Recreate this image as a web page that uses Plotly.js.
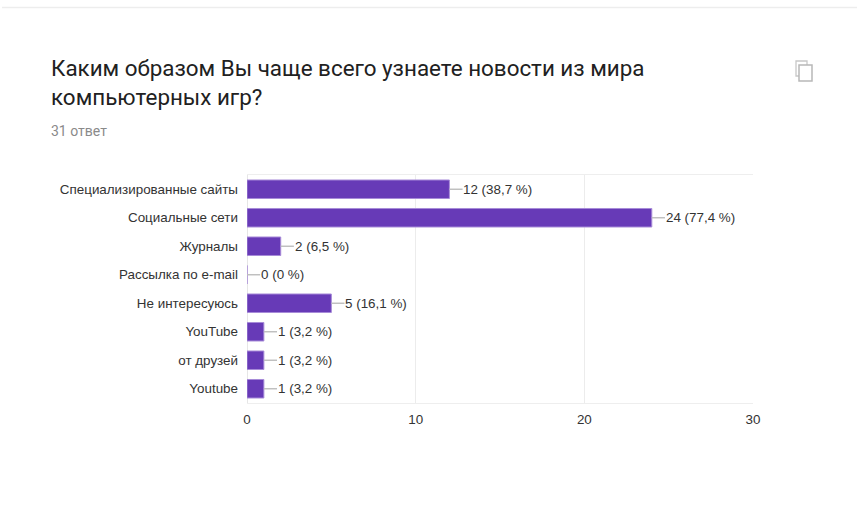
<!DOCTYPE html>
<html>
<head>
<meta charset="utf-8">
<script src="https://cdn.plot.ly/plotly-3.0.1.min.js"></script>
<style>html,body{margin:0;padding:0;background:#fff}#chart{width:857px;height:522px}</style>
</head>
<body>
<div id="chart"></div>
<script>
const categories = ["Специализированные сайты","Социальные сети","Журналы","Рассылка по e-mail","Не интересуюсь","YouTube","от друзей","Youtube"];
const counts = [12,24,2,0,5,1,1,1];
const percents = ["38,7","77,4","6,5","0","16,1","3,2","3,2","3,2"];
const xTicks = [0,10,20,30];
const questionText = "Каким образом Вы чаще всего узнаете новости из мира<br>компьютерных игр?";
const answersText = "31 ответ";

const W = 857, H = 522;
const margin = {l:247, r:104, t:175, b:119};
const leaderLength = 0.78; // stem between a bar end and its label, in axis units

// Page-pixel helpers for the card furniture outside the plot area
const px = x => (x - margin.l) / (W - margin.l - margin.r);
const py = y => 1 - (y - margin.t) / (H - margin.t - margin.b);
const rectShape = (x0,y0,x1,y1,style) => Object.assign({type:"rect",xref:"paper",yref:"paper",x0:px(x0),x1:px(x1),y0:py(y0),y1:py(y1)},style);

const labelFont = {family:"Liberation Sans, Arial, sans-serif", size:13.4, color:"#333333"};

const trace = {
  type:"bar", orientation:"h",
  y:categories, x:counts,
  width:0.65,
  marker:{color:"#673ab7", line:{color:"#a78bd8", width:1}},
  error_x:{type:"data", symmetric:false, array:counts.map(()=>leaderLength), arrayminus:counts.map(()=>0), color:"#bdbdbd", thickness:1.4, width:0},
  hoverinfo:"skip", cliponaxis:false
};

const valueLabels = categories.map((c,i)=>({
  x:counts[i], y:c, xref:"x", yref:"y",
  text:counts[i]+" ("+percents[i]+" %)",
  showarrow:false, xanchor:"left", yanchor:"middle", xshift:12,
  font:labelFont
}));

const textLabels = [
  {text:questionText, x:px(48.5), y:py(82.5), align:"left", yanchor:"middle",
   font:{family:"Roboto, sans-serif", size:22.4, color:"#212121"}},
  {text:answersText, x:px(48.5), y:py(131), align:"left", yanchor:"middle",
   font:{family:"Roboto, sans-serif", size:14, color:"#8a8a8a"}}
].map(a=>Object.assign({xref:"paper",yref:"paper",xanchor:"left",showarrow:false},a));

const layout = {
  width:W, height:H, margin:margin, showlegend:false,
  paper_bgcolor:"#ffffff", plot_bgcolor:"#ffffff",
  font:labelFont,
  bargap:0.35,
  xaxis:{range:[0,30], tickvals:xTicks, ticktext:xTicks.map(String), showgrid:true, gridcolor:"#ececec", gridwidth:1.4,
         zeroline:false, showline:true, mirror:true, linecolor:"#eeeeee", linewidth:1.4, ticks:"", ticklabelstandoff:4, tickfont:labelFont, automargin:false},
  yaxis:{type:"category", categoryorder:"array", categoryarray:categories, autorange:"reversed",
         showgrid:false, zeroline:false, showline:false, ticks:"", ticklabelstandoff:8, tickfont:labelFont, automargin:false},
  annotations:valueLabels.concat(textLabels),
  shapes:[
    // separator along the top of the card
    {type:"line",xref:"paper",yref:"paper",x0:px(2),x1:px(857),y0:py(7.5),y1:py(7.5),line:{color:"#ededed",width:1.5}},
    // axis baseline at zero
    {type:"line",xref:"x",yref:"paper",x0:0,x1:0,y0:0,y1:1,line:{color:"#d6d6d6",width:1.2},layer:"below"},
    // copy icon in the card corner
    rectShape(796,61,807,76,{line:{color:"#c8c8c8",width:1.3},fillcolor:"#ffffff"}),
    rectShape(799,65,812,81,{line:{color:"#b8b8b8",width:1.5},fillcolor:"#ffffff"})
  ]
};

Plotly.newPlot("chart",[trace],layout,{displayModeBar:false,staticPlot:true});
</script>
</body>
</html>
